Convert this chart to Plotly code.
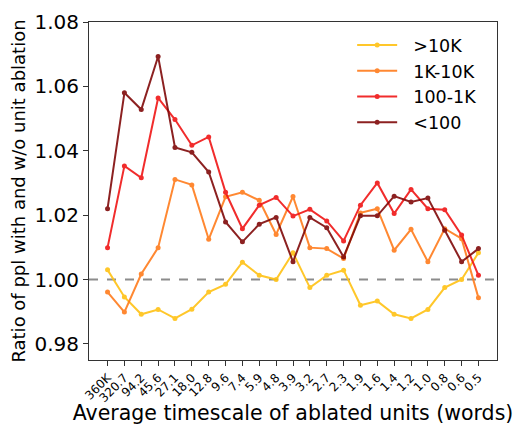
import plotly.graph_objects as go

# Average timescale of the ablated units (words), one category per group
timescales = ["360K", "320.7", "94.2", "45.6", "27.1", "18.0", "12.8", "9.6", "7.4",
              "5.9", "4.8", "3.9", "3.2", "2.7", "2.3", "1.9", "1.6", "1.4", "1.2",
              "1.0", "0.8", "0.6", "0.5"]

# Perplexity ratio (with / without ablation) per word-frequency bin
freq_gt10k = [1.0030, 0.9946, 0.9892, 0.9907, 0.9879, 0.9908, 0.9961, 0.9985, 1.0054,
              1.0013, 1.0000, 1.0083, 0.9975, 1.0013, 1.0029, 0.9920, 0.9933, 0.9892,
              0.9879, 0.9907, 0.9975, 1.0000, 1.0083]
freq_1k_10k = [0.9961, 0.9899, 1.0017, 1.0099, 1.0311, 1.0294, 1.0125, 1.0257, 1.0271,
               1.0246, 1.0140, 1.0258, 1.0099, 1.0096, 1.0065, 1.0207, 1.0220, 1.0091,
               1.0156, 1.0055, 1.0158, 1.0127, 0.9943]
freq_100_1k = [1.0099, 1.0353, 1.0316, 1.0564, 1.0497, 1.0417, 1.0443, 1.0271, 1.0158,
               1.0231, 1.0255, 1.0197, 1.0218, 1.0182, 1.0120, 1.0231, 1.0300, 1.0205,
               1.0280, 1.0220, 1.0217, 1.0138, 1.0013]
freq_lt100 = [1.0220, 1.0580, 1.0528, 1.0693, 1.0410, 1.0395, 1.0334, 1.0179, 1.0117,
              1.0172, 1.0193, 1.0055, 1.0193, 1.0161, 1.0070, 1.0198, 1.0198, 1.0259,
              1.0241, 1.0253, 1.0153, 1.0055, 1.0096]

series = [
    (">10K", freq_gt10k, "rgb(255,194,20)"),
    ("1K-10K", freq_1k_10k, "rgb(255,124,28)"),
    ("100-1K", freq_100_1k, "rgb(240,22,22)"),
    ("<100", freq_lt100, "rgb(128,10,10)"),
]

x_idx = list(range(len(timescales)))
pad = "\u00a0\u00a0"  # small gap between legend swatch and label

fig = go.Figure()

# Reference level: no change in perplexity
fig.add_shape(type="line", xref="paper", x0=0, x1=1, yref="y", y0=1.0, y1=1.0,
              line=dict(color="rgb(140,140,140)", width=2, dash="dash"), layer="below")

for name, vals, color in series:
    fig.add_trace(go.Scatter(
        x=x_idx, y=vals, name=pad + name, mode="lines+markers",
        line=dict(color=color, width=2),
        marker=dict(color=color, size=5),
        opacity=0.9,
    ))

font_family = "DejaVu Sans"
fig.update_layout(
    width=517, height=425,
    margin=dict(l=89, r=20, t=22, b=65),
    plot_bgcolor="white", paper_bgcolor="white",
    font=dict(family=font_family, color="black"),
    showlegend=True,
    legend=dict(x=0.645, y=0.985, xanchor="left", yanchor="top",
                bgcolor="rgba(0,0,0,0)", font=dict(size=17.5, family=font_family),
                itemwidth=40, tracegroupgap=0),
)

fig.update_xaxes(
    range=[-1.1, 23.1], automargin=False,
    tickmode="array", tickvals=x_idx, ticktext=timescales,
    tickangle=-45, tickfont=dict(size=12),
    ticks="outside", ticklen=5, tickcolor="#333",
    showline=True, linecolor="#333", linewidth=1, mirror=True,
    showgrid=False, zeroline=False,
    title=dict(text="Average timescale of ablated units (words)",
               font=dict(size=20.5), standoff=2),
)
fig.update_yaxes(
    range=[0.975, 1.08], automargin=False,
    tickmode="array", tickvals=[0.98, 1.00, 1.02, 1.04, 1.06, 1.08],
    tickformat=".2f", tickfont=dict(size=20),
    ticks="outside", ticklen=5, tickcolor="#333",
    showline=True, linecolor="#333", linewidth=1, mirror=True,
    showgrid=False, zeroline=False,
    title=dict(text="Ratio of ppl with and w/o unit ablation",
               font=dict(size=18), standoff=4),
)

fig.write_html("out.html")
